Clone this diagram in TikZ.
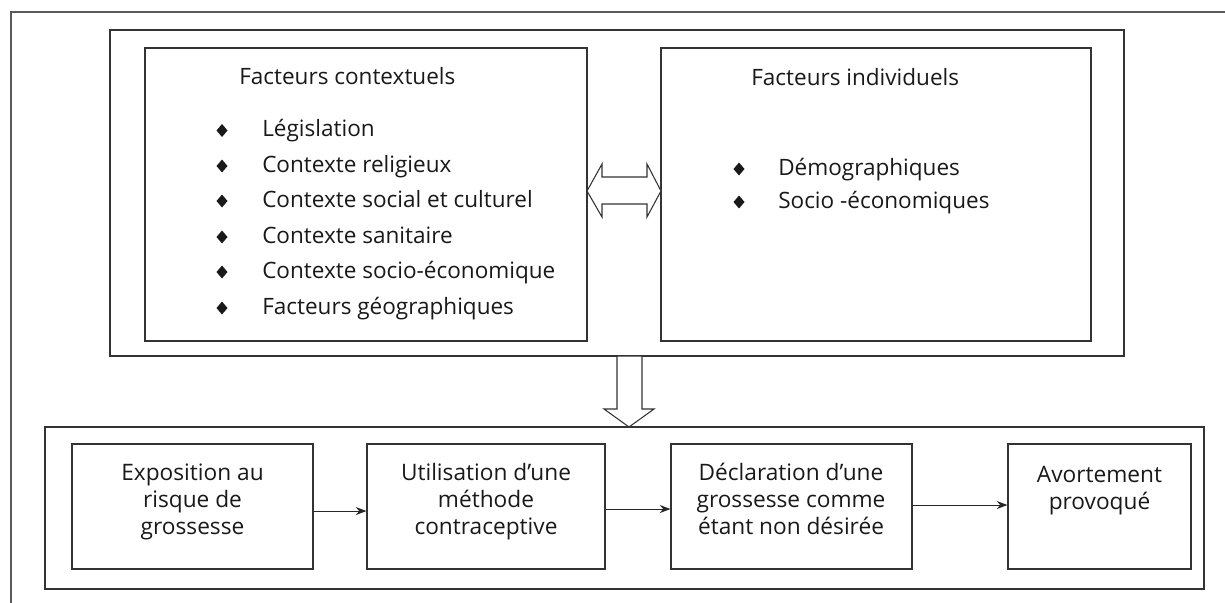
\documentclass[tikz,border=0pt]{standalone}
\usepackage{fontspec}
\setmainfont{Open Sans}
\usetikzlibrary{arrows.meta,fit}
\tikzset{
  frame/.style={draw=black!65, line width=1.1pt},
  box/.style={draw=black!80, line width=0.85pt, inner sep=0pt, fit={#1}},
  txt/.style={text=black!90, inner sep=0pt, font=\fontsize{16.9}{20}\selectfont},
  btxt/.style={text=black!90, inner sep=0pt, align=center, anchor=north,
    font=\fontsize{17}{20.25}\selectfont},
  blockarrow/.style={draw=black!80, line width=0.8pt, fill=white, line join=miter},
  conn/.style={draw=black!85, line width=0.8pt, -{Stealth[length=8pt,width=6pt]}},
  diam/.pic={\fill[black!90] (0,-6.5) -- (5.5,0) -- (0,6.5) -- (-5.5,0) -- cycle;}
}
\begin{document}
\begin{tikzpicture}[x=0.75pt,y=-0.75pt]
\useasboundingbox (0,0) rectangle (1225,603);
% outer frame (cropped at right and bottom)
\draw[frame] (1225,12) -- (11,12) -- (11,603);

% upper container and its two boxes
\node[box={(110,30) (1124,356)}] (U) {};
\node[box={(145,48) (587,341)}] (L) {};
\node[box={(661,48) (1091,341)}] (R) {};

% bottom container and boxes
\node[box={(45,427) (1204,589)}] (B) {};
\node[box={(72,444) (313,569)}] (b1) {};
\node[box={(367,444) (605,569)}] (b2) {};
\node[box={(671,444) (912,569)}] (b3) {};
\node[box={(1008,444) (1191,569)}] (b4) {};

% double block arrow between L and R
\draw[blockarrow] (587,191) -- (602,164) -- (602,177) -- (647,177) -- (647,164)
  -- (661,191) -- (647,217) -- (647,204) -- (602,204) -- (602,217) -- cycle;

% down block arrow from U to B
\draw[blockarrow] (617,356) -- (642,356) -- (642,409) -- (654,409) -- (629,427)
  -- (604,409) -- (617,409) -- cycle;

% left box texts
\node[txt, anchor=base west] (lt) at (239,84) {Facteurs contextuels};
\node[txt, anchor=base west] (l1) at (262,136.5) {Législation};
\node[txt, anchor=base west] (l2) at (262,172) {Contexte religieux};
\node[txt, anchor=base west] (l3) at (262,207) {Contexte social et culturel};
\node[txt, anchor=base west] (l4) at (262,243) {Contexte sanitaire};
\node[txt, anchor=base west] (l5) at (262,278) {Contexte socio-économique};
\node[txt, anchor=base west] (l6) at (262,314) {Facteurs géographiques};
\foreach \yy in {136.5,172,207,243,278,314} \pic at (222,\yy-6) {diam};

% right box texts
\node[txt, anchor=base west] (rt) at (751,85) {Facteurs individuels};
\node[txt, anchor=base west] (r1) at (778,175) {Démographiques};
\node[txt, anchor=base west] (r2) at (778,208) {Socio -économiques};
\foreach \yy in {175,208} \pic at (739,\yy-6) {diam};

% bottom texts
\node[btxt] (e1) at (192.5,461) {\strut Exposition au\\risque de\\grossesse};
\node[btxt] (e2) at (486,461) {\strut Utilisation d’une\\méthode\\contraceptive};
\node[btxt] (e3) at (791,461) {\strut Déclaration d’une\\grossesse comme\\étant non désirée};
\node[btxt] (e4) at (1099.5,463) {\strut Avortement\\provoqué};

% connectors
\draw[conn] ([yshift=-3.4pt]b1.east) -- ([yshift=-3.4pt]b2.west);
\draw[conn] ([yshift=-1.9pt]b2.east) -- ([yshift=-1.9pt]b3.west);
\draw[conn] ([yshift=1.1pt]b3.east) -- ([yshift=1.1pt]b4.west);
\end{tikzpicture}
\end{document}
